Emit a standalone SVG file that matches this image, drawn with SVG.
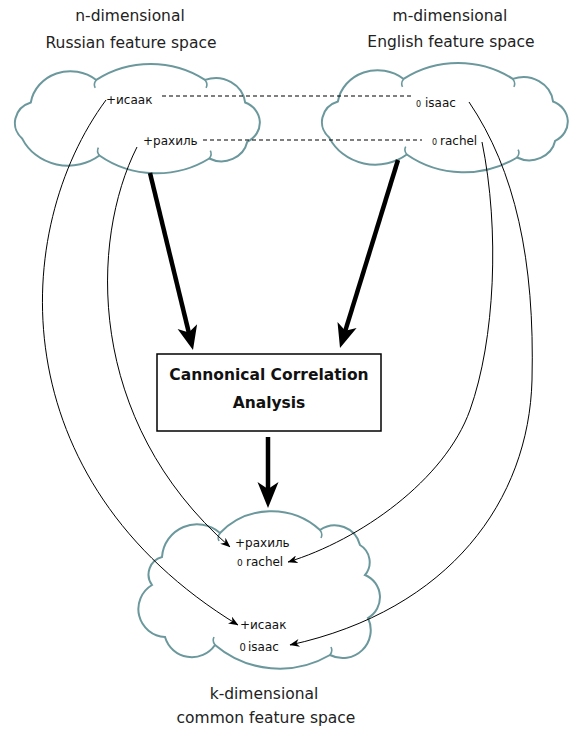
<svg xmlns="http://www.w3.org/2000/svg" width="580" height="736" viewBox="0 0 580 736">
<style>
.title{font-family:"DejaVu Sans",sans-serif;font-size:15.5px;fill:#222;text-anchor:middle}
.lbl{font-family:"DejaVu Sans",sans-serif;font-size:12px;fill:#111}
.zero{font-family:"DejaVu Sans",sans-serif;font-size:8px;fill:#111}
.cl{fill:#fff;stroke:#6b989c;stroke-width:2}
.tk{fill:none;stroke:#6b989c;stroke-width:1.6}
.dash{stroke:#000;stroke-width:1.2;stroke-dasharray:4 3;fill:none}
.thin{stroke:#000;stroke-width:1;fill:none;marker-end:url(#arr)}
.thick{stroke:#000;stroke-width:4.5;fill:none}
.head{fill:#000}
.box{fill:#fff;stroke:#000;stroke-width:1.5}
.boxt{font-family:"DejaVu Sans",sans-serif;font-weight:bold;font-size:15.5px;fill:#111;text-anchor:middle}
</style>
<defs>
<marker id="arr" viewBox="0 0 10 8" refX="9.5" refY="4" markerWidth="10" markerHeight="8" markerUnits="userSpaceOnUse" orient="auto">
<path d="M0,0 L10,4 L0,8 L3,4 Z" fill="#000"/>
</marker>
<g id="cloudshape">
<path class="cl" vector-effect="non-scaling-stroke" d="M23,38 A38,38 0 0 1 85,15 A90,90 0 0 1 188,15 A28,28 0 0 1 226,38 A22,22 0 0 1 228,78 A25,25 0 0 1 192,95 A90,90 0 0 1 88,92 A48,48 0 0 1 15,75 A22,22 0 0 1 23,38 Z"/>
<path class="tk" vector-effect="non-scaling-stroke" d="M85,15 Q82,19 84,23 M188,15 Q191,19 189,23 M192,95 Q195,91 193,87 M88,92 Q85,88 87,84"/>
</g>
</defs>
<rect width="580" height="736" fill="#fff"/>

<g id="russian-space">
<text class="title" x="130" y="21">n-dimensional</text>
<text class="title" x="131" y="48">Russian feature space</text>
<use href="#cloudshape" transform="translate(6.5,65.2) scale(1.056,0.982)"/>
<text class="lbl" x="106" y="104">+исаак</text>
<text class="lbl" x="143" y="145">+рахиль</text>
</g>

<g id="english-space">
<text class="title" x="450" y="21">m-dimensional</text>
<text class="title" x="451" y="47">English feature space</text>
<use href="#cloudshape" transform="translate(313.5,64.2) scale(1.06,0.982)"/>
<text class="zero" x="416" y="107">0</text>
<text class="lbl" x="425" y="107">isaac</text>
<text class="zero" x="432" y="145">0</text>
<text class="lbl" x="440" y="145">rachel</text>
</g>

<g id="cca">
<rect class="box" x="157" y="354" width="224" height="77"/>
<text class="boxt" x="269" y="380">Cannonical Correlation</text>
<text class="boxt" x="269" y="408">Analysis</text>
</g>

<g id="common-space">
<path class="cl" d="M220,533 A72,72 0 0 1 320,530 A26,26 0 0 1 360,545 A20,20 0 0 1 365,575 A24,24 0 0 1 368,618 A28,28 0 0 1 330,655 A100,100 0 0 1 215,645 A28,28 0 0 1 165,637 A28,28 0 0 1 152,585 A18,18 0 0 1 162,557 A35,35 0 0 1 220,533 Z"/>
<path class="tk" d="M220,533 Q217,537 219,541 M320,530 Q323,534 321,538 M330,655 Q333,651 331,647 M215,645 Q212,641 214,637"/>
<text class="lbl" x="235" y="547">+рахиль</text>
<text class="zero" x="237" y="566" style="font-size:9px">0</text>
<text class="lbl" x="246" y="566">rachel</text>
<text class="lbl" x="240" y="629">+исаак</text>
<text class="zero" x="239.5" y="651" style="font-size:10px">0</text>
<text class="lbl" x="248" y="651">isaac</text>
<text class="title" x="264" y="699">k-dimensional</text>
<text class="title" x="266" y="723">common feature space</text>
</g>

<g id="connectors">
<line class="dash" x1="162" y1="96" x2="412" y2="96"/>
<line class="dash" x1="203" y1="140" x2="422" y2="140"/>
<path class="thin" d="M106,100 C10,230 0,480 238,625"/>
<path class="thin" d="M137,147 C90,240 85,420 230,547"/>
<path class="thin" d="M482,142 C500,230 495,340 470,410 C445,480 360,540 288,562"/>
<path class="thin" d="M469,102 C515,170 535,260 532,380 C529,500 450,610 290,645"/>
<line class="thick" x1="150" y1="173" x2="189.5" y2="335.4"/>
<polygon class="head" points="193,350 197.1,324.3 188.75,332.5 177.6,329.1"/>
<line class="thick" x1="398" y1="160" x2="344.4" y2="333.7"/>
<polygon class="head" points="340,348 356.6,328 345.3,330.8 337.5,322.1"/>
<line class="thick" x1="268" y1="437" x2="268" y2="492"/>
<polygon class="head" points="268,508 278.5,482 268,489 257.5,482"/>
</g>
</svg>
